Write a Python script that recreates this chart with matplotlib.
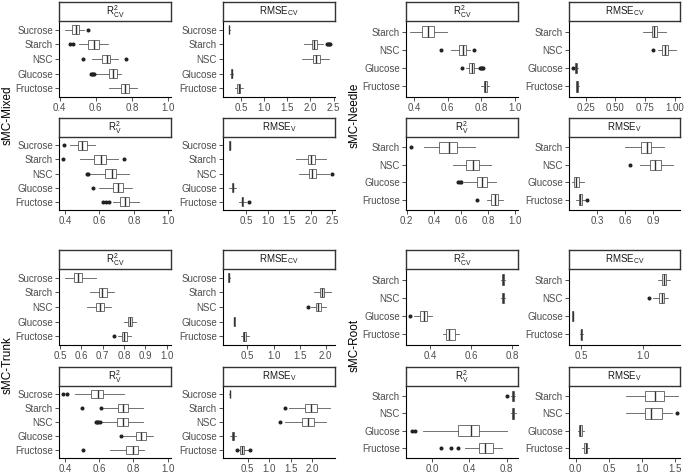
import matplotlib
matplotlib.use("Agg")
import matplotlib.pyplot as plt

plt.rcParams['font.family'] = ['Liberation Sans', 'DejaVu Sans']
plt.rcParams['mathtext.fontset'] = 'custom'
plt.rcParams['mathtext.rm'] = 'Liberation Sans'
plt.rcParams['mathtext.it'] = 'Liberation Sans:italic'
plt.rcParams['mathtext.bf'] = 'Liberation Sans:bold'

# ---------------- data ----------------
cats5 = ["Sucrose", "Starch", "NSC", "Glucose", "Fructose"]
cats4 = ["Starch", "NSC", "Glucose", "Fructose"]

# each tuple: (whisker low, Q1, median, Q3, whisker high)
mixed_r2cv = [(0.43, 0.47, 0.49, 0.51, 0.535), (0.51, 0.555, 0.59, 0.615, 0.665),
              (0.58, 0.635, 0.66, 0.68, 0.72), (0.60, 0.675, 0.695, 0.715, 0.74),
              (0.675, 0.74, 0.76, 0.785, 0.83)]
mixed_r2cv_out = [[0.555], [0.455, 0.475], [0.53, 0.765], [0.575, 0.58, 0.585, 0.59], []]

mixed_rmsecv = [(0.235, 0.24, 0.245, 0.25, 0.255), (1.86, 2.03, 2.08, 2.15, 2.26),
                (1.81, 2.05, 2.13, 2.20, 2.40), (0.27, 0.285, 0.295, 0.305, 0.32),
                (0.36, 0.42, 0.45, 0.48, 0.54)]
mixed_rmsecv_out = [[], [2.36, 2.38, 2.40, 2.42], [], [], []]

mixed_r2v = [(0.43, 0.476, 0.50, 0.527, 0.575), (0.486, 0.571, 0.606, 0.638, 0.705),
             (0.543, 0.634, 0.67, 0.695, 0.771), (0.60, 0.676, 0.705, 0.737, 0.79),
             (0.676, 0.72, 0.749, 0.771, 0.829)]
mixed_r2v_out = [[0.395], [0.39, 0.743], [0.527, 0.535], [0.562], [0.619, 0.638, 0.657]]

mixed_rmsev = [(0.11, 0.12, 0.125, 0.13, 0.14), (1.66, 1.93, 2.0, 2.10, 2.35),
               (1.73, 1.95, 2.03, 2.13, 2.43), (0.12, 0.17, 0.19, 0.21, 0.28),
               (0.34, 0.40, 0.42, 0.44, 0.50)]
mixed_rmsev_out = [[], [], [2.48], [], [0.56]]

needle_r2cv = [(0.376, 0.446, 0.479, 0.515, 0.594), (0.62, 0.669, 0.689, 0.709, 0.733),
               (0.709, 0.729, 0.743, 0.757, 0.782), (0.80, 0.815, 0.825, 0.835, 0.845)]
needle_r2cv_out = [[], [0.56, 0.758], [0.687, 0.795, 0.80, 0.805, 0.81], []]

needle_rmsecv = [(0.736, 0.805, 0.828, 0.853, 0.93), (0.86, 0.897, 0.922, 0.944, 1.013),
                 (0.155, 0.16, 0.167, 0.175, 0.185), (0.165, 0.172, 0.18, 0.188, 0.198)]
needle_rmsecv_out = [[], [0.82], [0.145], []]

needle_r2v = [(0.33, 0.44, 0.51, 0.57, 0.70), (0.54, 0.64, 0.69, 0.73, 0.82),
              (0.62, 0.72, 0.755, 0.79, 0.86), (0.79, 0.82, 0.85, 0.87, 0.91)]
needle_r2v_out = [[0.23], [], [0.58, 0.59, 0.60], [0.72]]

needle_rmsev = [(0.60, 0.777, 0.837, 0.883, 1.02), (0.76, 0.865, 0.925, 0.989, 1.11),
                (0.035, 0.053, 0.08, 0.106, 0.16), (0.07, 0.106, 0.12, 0.14, 0.176)]
needle_rmsev_out = [[], [0.653], [], [0.194]]

trunk_r2cv = [(0.524, 0.563, 0.583, 0.603, 0.667), (0.64, 0.683, 0.698, 0.719, 0.754),
              (0.624, 0.667, 0.687, 0.706, 0.738), (0.80, 0.817, 0.827, 0.837, 0.857),
              (0.77, 0.789, 0.80, 0.814, 0.833)]
trunk_r2cv_out = [[], [], [], [], [0.754]]

trunk_rmsecv = [(0.12, 0.13, 0.14, 0.15, 0.16), (1.78, 1.89, 1.93, 1.97, 2.10),
                (1.72, 1.82, 1.86, 1.91, 2.00), (0.24, 0.245, 0.25, 0.255, 0.26),
                (0.37, 0.41, 0.44, 0.47, 0.52)]
trunk_rmsecv_out = [[], [], [1.66], [], []]

trunk_r2v = [(0.458, 0.555, 0.593, 0.622, 0.748), (0.622, 0.71, 0.739, 0.768, 0.855),
             (0.61, 0.704, 0.739, 0.768, 0.855), (0.74, 0.816, 0.845, 0.874, 0.913),
             (0.661, 0.758, 0.797, 0.826, 0.864)]
trunk_r2v_out = [[0.39, 0.41], [0.497, 0.613], [0.584, 0.59, 0.596, 0.603], [0.729], [0.506]]

trunk_rmsev = [(0.08, 0.085, 0.09, 0.095, 0.10), (1.46, 1.84, 1.98, 2.11, 2.42),
               (1.36, 1.77, 1.90, 2.05, 2.32), (0.10, 0.14, 0.16, 0.19, 0.24),
               (0.28, 0.33, 0.37, 0.42, 0.50)]
trunk_rmsev_out = [[], [1.36], [1.25], [], [0.25, 0.55]]

root_r2cv = [(0.745, 0.75, 0.755, 0.76, 0.765), (0.745, 0.75, 0.757, 0.762, 0.768),
             (0.32, 0.35, 0.37, 0.385, 0.41), (0.46, 0.475, 0.49, 0.52, 0.54)]
root_r2cv_out = [[], [], [0.30], []]

root_rmsecv = [(1.12, 1.15, 1.17, 1.19, 1.22), (1.08, 1.13, 1.15, 1.17, 1.20),
               (0.425, 0.428, 0.43, 0.432, 0.435), (0.49, 0.495, 0.50, 0.505, 0.51)]
root_rmsecv_out = [[], [1.05], [], []]

root_r2v = [(0.85, 0.86, 0.87, 0.88, 0.89), (0.85, 0.86, 0.87, 0.88, 0.90),
            (-0.10, 0.28, 0.42, 0.50, 0.80), (0.35, 0.50, 0.57, 0.65, 0.75)]
root_r2v_out = [[0.80], [], [-0.22, -0.18], [0.10, 0.20, 0.28]]

root_rmsev = [(0.76, 1.04, 1.19, 1.33, 1.54), (0.76, 1.04, 1.14, 1.30, 1.45),
              (0.03, 0.05, 0.07, 0.09, 0.12), (0.10, 0.13, 0.15, 0.17, 0.20)]
root_rmsev_out = [[], [1.52], [], []]

# ---------------- layout helpers ----------------
W, H = 685, 476
fig = plt.figure(figsize=(W / 100, H / 100), dpi=100)

TXT = '#4D4D4D'
STRIP_H = 19


def px_axes(x0, y0, x1, y1):
    return fig.add_axes([x0 / W, 1 - y1 / H, (x1 - x0) / W, (y1 - y0) / H])


def panel(x0, x1, ytop, ybot, title, cats, stats, outs, xlim, xticks, xlabels):
    ax = px_axes(x0, ytop + STRIP_H, x1, ybot)
    n = len(cats)
    pos = list(range(n, 0, -1))
    bstats = []
    for c, s, o in zip(cats, stats, outs):
        bstats.append(dict(label=c, whislo=s[0], q1=s[1], med=s[2], q3=s[3],
                           whishi=s[4], fliers=o))
    ax.bxp(bstats, positions=pos, orientation='horizontal', widths=0.6,
           showcaps=False, patch_artist=True,
           boxprops=dict(facecolor='white', edgecolor='#5A5A5A', linewidth=0.6),
           whiskerprops=dict(color='#5A5A5A', linewidth=0.6),
           medianprops=dict(color='#333333', linewidth=1.0),
           flierprops=dict(marker='o', markersize=1.9, markerfacecolor='#222222',
                           markeredgecolor='#222222', linestyle='none'))
    ax.set_ylim(0.4, n + 0.6)
    ax.set_yticks(pos)
    ax.set_yticklabels(cats)
    ax.set_xlim(*xlim)
    ax.set_xticks(xticks)
    ax.set_xticklabels(xlabels)
    for side in ('top', 'right'):
        ax.spines[side].set_visible(False)
    for side in ('left', 'bottom'):
        ax.spines[side].set_linewidth(0.8)
        ax.spines[side].set_color('black')
    ax.tick_params(axis='both', labelsize=7, labelcolor=TXT, color='#333333',
                   length=2.8, width=0.6, pad=1.5)
    ax.set_facecolor('white')

    sax = px_axes(x0, ytop, x1, ytop + STRIP_H)
    sax.set_zorder(5)
    sax.set_xticks([]); sax.set_yticks([])
    for s in sax.spines.values():
        s.set_linewidth(1.0); s.set_color('#333333')
    sax.text(0.5, 0.5, title, ha='center', va='center', fontsize=7, color='#1A1A1A',
             transform=sax.transAxes)
    return ax


r2_cv = r'R$^{2}_{\mathrm{CV}}$'
r2_v = r'R$^{2}_{\mathrm{V}}$'
rm_cv = r'RMSE$_{\mathrm{CV}}$'
rm_v = r'RMSE$_{\mathrm{V}}$'

colA, colB, colC, colD = (59, 171), (223, 335), (406, 518), (569, 680)
rowsTop = [(2, 97), (118, 210)]
rowsBot = [(250, 345), (367, 458)]

t04 = [0.4, 0.6, 0.8, 1.0]; l04 = ['0.4', '0.6', '0.8', '1.0']
t05 = [0.5, 1.0, 1.5, 2.0, 2.5]; l05 = ['0.5', '1.0', '1.5', '2.0', '2.5']

# sMC-Mixed
panel(*colA, *rowsTop[0], r2_cv, cats5, mixed_r2cv, mixed_r2cv_out, (0.397, 1.015), t04, l04)
panel(*colB, *rowsTop[0], rm_cv, cats5, mixed_rmsecv, mixed_rmsecv_out, (0.11, 2.53), t05, l05)
panel(*colA, *rowsTop[1], r2_v, cats5, mixed_r2v, mixed_r2v_out, (0.365, 1.015), t04, l04)
panel(*colB, *rowsTop[1], rm_v, cats5, mixed_rmsev, mixed_rmsev_out, (-0.03, 2.56), t05, l05)

# sMC-Needle
panel(*colC, *rowsTop[0], r2_cv, cats4, needle_r2cv, needle_r2cv_out, (0.35, 1.02), t04, l04)
panel(*colD, *rowsTop[0], rm_cv, cats4, needle_rmsecv, needle_rmsecv_out, (0.11, 1.045),
      [0.25, 0.5, 0.75, 1.0], ['0.25', '0.50', '0.75', '1.00'])
panel(*colC, *rowsTop[1], r2_v, cats4, needle_r2v, needle_r2v_out, (0.195, 1.02),
      [0.2, 0.4, 0.6, 0.8, 1.0], ['0.2', '0.4', '0.6', '0.8', '1.0'])
panel(*colD, *rowsTop[1], rm_v, cats4, needle_rmsev, needle_rmsev_out, (0.0, 1.19),
      [0.3, 0.6, 0.9], ['0.3', '0.6', '0.9'])

# sMC-Trunk
panel(*colA, *rowsBot[0], r2_cv, cats5, trunk_r2cv, trunk_r2cv_out, (0.495, 1.02),
      [0.5, 0.6, 0.7, 0.8, 0.9, 1.0], ['0.5', '0.6', '0.7', '0.8', '0.9', '1.0'])
panel(*colB, *rowsBot[0], rm_cv, cats5, trunk_rmsecv, trunk_rmsecv_out, (0.03, 2.18),
      [0.5, 1.0, 1.5, 2.0], ['0.5', '1.0', '1.5', '2.0'])
panel(*colA, *rowsBot[1], r2_v, cats5, trunk_r2v, trunk_r2v_out, (0.365, 1.02), t04, l04)
panel(*colB, *rowsBot[1], rm_v, cats5, trunk_rmsev, trunk_rmsev_out, (-0.07, 2.53),
      [0.5, 1.0, 1.5, 2.0], ['0.5', '1.0', '1.5', '2.0'])

# sMC-Root
panel(*colC, *rowsBot[0], r2_cv, cats4, root_r2cv, root_r2cv_out, (0.28, 0.83),
      [0.4, 0.6, 0.8], ['0.4', '0.6', '0.8'])
panel(*colD, *rowsBot[0], rm_cv, cats4, root_rmsecv, root_rmsecv_out, (0.40, 1.30),
      [0.5, 1.0], ['0.5', '1.0'])
panel(*colC, *rowsBot[1], r2_v, cats4, root_r2v, root_r2v_out, (-0.28, 0.92),
      [0.0, 0.4, 0.8], ['0.0', '0.4', '0.8'])
panel(*colD, *rowsBot[1], rm_v, cats4, root_rmsev, root_rmsev_out, (-0.10, 1.57),
      [0.0, 0.5, 1.0, 1.5], ['0.0', '0.5', '1.0', '1.5'])

# group labels
for x, y, lab in [(8, 115, 'sMC-Mixed'), (355, 115, 'sMC-Needle'),
                  (8, 365, 'sMC-Trunk'), (355, 345, 'sMC-Root')]:
    fig.text(x / W, 1 - y / H, lab, rotation=90, ha='center', va='center',
             fontsize=8.5, color='black')

fig.savefig('out.png', dpi=100, facecolor='white')
